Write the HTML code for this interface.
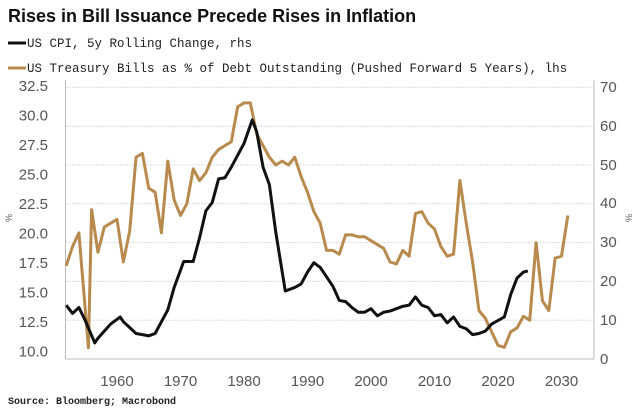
<!DOCTYPE html>
<html><head><style>
body{margin:0;background:#fff;}
svg{display:block;font-family:"Liberation Sans",sans-serif;}
</style></head><body>
<svg width="642" height="415" viewBox="0 0 642 415" xmlns="http://www.w3.org/2000/svg">
<text x="8" y="22" font-size="18" font-weight="bold" fill="#111">Rises in Bill Issuance Precede Rises in Inflation</text>
<line x1="8" y1="43" x2="26" y2="43" stroke="#111" stroke-width="3"/>
<text x="27" y="47" font-family="Liberation Mono,monospace" font-size="12.5" fill="#222">US CPI, 5y Rolling Change, rhs</text>
<line x1="8" y1="68" x2="26" y2="68" stroke="#b88a4e" stroke-width="3"/>
<text x="27" y="72" font-family="Liberation Mono,monospace" font-size="12.5" fill="#222">US Treasury Bills as % of Debt Outstanding (Pushed Forward 5 Years), lhs</text>
<g stroke="#ddd" stroke-width="1" stroke-dasharray="2,1">
<line x1="66" x2="594" y1="87.4" y2="87.4"/><line x1="66" x2="594" y1="126.2" y2="126.2"/><line x1="66" x2="594" y1="165" y2="165"/><line x1="66" x2="594" y1="203.8" y2="203.8"/><line x1="66" x2="594" y1="242.6" y2="242.6"/><line x1="66" x2="594" y1="281.4" y2="281.4"/><line x1="66" x2="594" y1="320.2" y2="320.2"/>
</g>
<line x1="66" y1="359" x2="594" y2="359" stroke="#bbb"/>
<line x1="594" y1="80" x2="594" y2="359" stroke="#bbb"/>
<line x1="65.5" y1="80" x2="65.5" y2="359" stroke="#bbb"/>
<g font-size="15" fill="#555" text-anchor="end">
<text x="48" y="91">32.5</text><text x="48" y="120.5">30.0</text><text x="48" y="150">27.5</text><text x="48" y="179.5">25.0</text><text x="48" y="209">22.5</text><text x="48" y="238.5">20.0</text><text x="48" y="268">17.5</text><text x="48" y="297.5">15.0</text><text x="48" y="327">12.5</text><text x="48" y="356.5">10.0</text>
</g>
<g font-size="15" fill="#555" text-anchor="start">
<text x="600" y="92">70</text><text x="600" y="131">60</text><text x="600" y="170">50</text><text x="600" y="208">40</text><text x="600" y="247">30</text><text x="600" y="286">20</text><text x="600" y="325">10</text><text x="600" y="364">0</text>
</g>
<g font-size="15" fill="#555" text-anchor="middle">
<text x="117" y="386">1960</text><text x="180.5" y="386">1970</text><text x="244" y="386">1980</text><text x="307.5" y="386">1990</text><text x="371" y="386">2000</text><text x="434.5" y="386">2010</text><text x="498" y="386">2020</text><text x="561.5" y="386">2030</text>
</g>
<text font-size="9" fill="#555" transform="translate(12,218) rotate(-90)" text-anchor="middle">%</text>
<text font-size="9" fill="#555" transform="translate(632,218) rotate(-90)" text-anchor="middle">%</text>
<text x="8" y="404" font-family="Liberation Mono,monospace" font-size="10" font-weight="bold" fill="#222">Source: Bloomberg; Macrobond</text>
<polyline transform="translate(53.5,359) scale(6.35,-3.88)" vector-effect="non-scaling-stroke" fill="none" stroke="#b88a4e" stroke-width="3" stroke-linejoin="round"
points="2,24 3,29 4,32.5 5.5,2.9 6,38.5 7,27.5 8,34 9,35 10,36 11,25 12,33 13,52 14,53 15,44 16,43 17,32.5 18,51 19,41 20,37 21,40 22,49 23,46 24,48 25,52 26,54 27,55 28,56 29,65 30,66 31,66 32,58 33,55 34,52 35,50 36,51 37,50 38,52 39,47 40,43 41,38 42,35 43,28 44,28 45,27 46,32 47,32 48,31.5 49,31.5 50,30.5 51,29.5 52,28.5 53,25 54,24.5 55,28 56,26.5 57,37.5 58,38 59,35 60,33.5 61,29 62,26.5 63,27 64,46 65,35 66,25 67,12.5 68,10.5 69,7 70,3.5 71,3 72,7 73,8 74,11 75,10 76,30 77,15 78,12.5 79,26 80,26.5 81,37"/>
<polyline transform="translate(53.5,468) scale(6.35,-11.8)" vector-effect="non-scaling-stroke" fill="none" stroke="#111" stroke-width="3" stroke-linejoin="round"
points="2,13.8 3,13.1 4,13.6 5,12.5 6.5,10.6 7,11 8,11.6 9,12.2 10.5,12.8 11,12.4 13,11.4 14,11.3 15,11.2 16,11.4 17,12.4 18,13.4 19,15.3 20.5,17.5 22,17.5 23,19.5 24,21.8 25,22.5 26,24.5 27,24.6 28,25.5 30,27.5 31.3,29.5 32,28.5 33,25.5 34,24 35,20 36.5,15 38,15.3 39,15.6 40,16.6 41,17.4 42,17 43,16.2 44,15.4 45,14.2 46,14.1 47,13.6 48,13.2 49,13.2 50,13.5 51,12.9 52,13.2 53,13.3 54,13.5 55,13.7 56,13.8 57,14.5 58,13.8 59,13.6 60,12.9 61,13 62,12.3 63,12.8 64,12 65,11.8 66,11.3 67,11.4 68,11.6 69,12.2 70,12.5 71,12.8 72,14.7 73,16.1 74,16.6 74.7,16.7"/>
</svg>
</body></html>
